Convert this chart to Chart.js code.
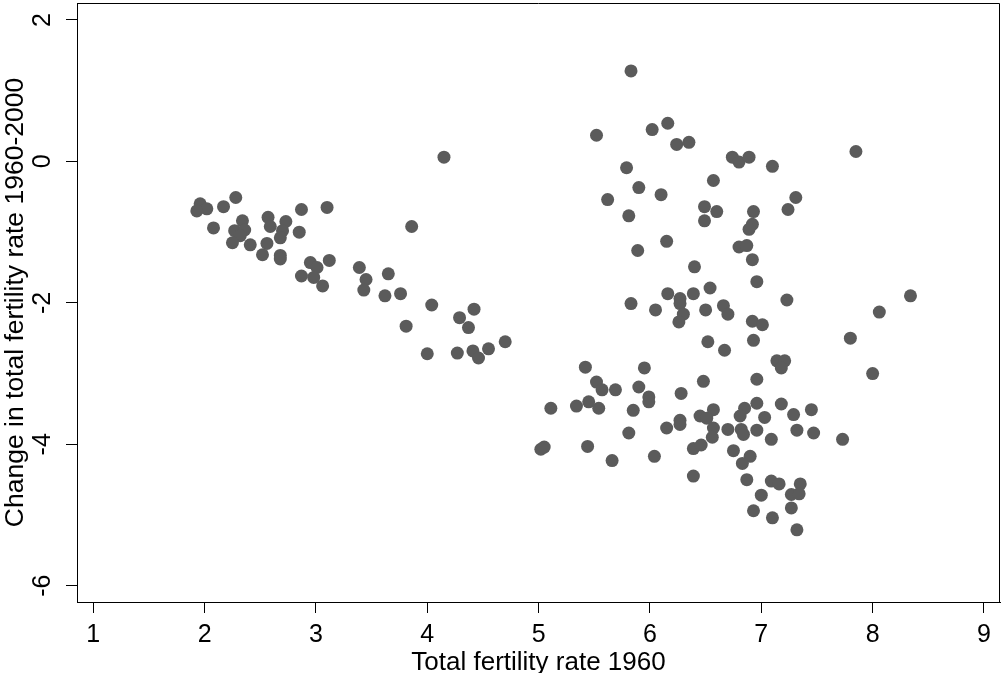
<!DOCTYPE html>
<html>
<head>
<meta charset="utf-8">
<script src="https://cdn.jsdelivr.net/npm/chart.js@4.4.1/dist/chart.umd.min.js"></script>
<style>
  html, body { margin: 0; padding: 0; background: #fff; }
</style>
</head>
<body>
<canvas id="chart" width="1002" height="673"></canvas>
<script>
// Total fertility rate in 1960 (x) and its change 1960-2000 (y)
const tfr1960 = [
    1.96, 2.02, 1.93, 2.17, 2.28, 2.08, 2.34, 2.27, 2.36, 2.32, 2.25, 2.41,
    2.57, 2.59, 2.73, 2.70, 2.68, 2.56, 2.52, 2.68, 2.68, 2.87, 2.85, 3.10,
    3.86, 2.95, 3.01, 3.12, 2.87, 2.98, 3.06, 3.39, 3.45, 3.43, 3.65, 3.62,
    3.76, 4.04, 3.81, 4.42, 4.29, 4.37, 4.70, 4.00, 4.27, 4.41, 4.55, 4.46,
    4.15,
    5.83, 5.52, 6.02, 6.16, 6.24, 6.35, 5.79, 5.90, 6.10, 5.62, 5.81, 6.57,
    6.49, 6.60, 6.49, 6.15, 5.89, 6.40, 5.83, 6.16, 6.27, 6.27, 6.30, 6.26,
    6.39, 6.54, 6.05, 6.50, 6.74, 6.80, 6.89, 7.10, 7.85, 7.31, 7.24, 6.93,
    6.92, 6.89, 6.80, 6.87, 6.92, 6.96, 7.23, 8.06, 6.66, 6.70, 6.92, 7.01,
    7.80, 6.52, 6.93, 6.67, 8.34, 5.42, 5.95, 5.52, 5.57, 5.69, 5.90, 5.99,
    5.99, 6.28, 5.11, 5.34, 5.45, 5.54, 5.85, 5.81, 6.15, 6.27, 6.27, 5.02,
    5.05, 5.44, 5.66, 6.04, 6.39, 6.39, 6.46, 7.14, 7.21, 7.18, 6.48, 6.96,
    6.96, 7.18, 7.29, 7.45, 7.03, 6.85, 6.81, 6.57, 6.45, 6.51, 6.57, 6.56,
    6.70, 6.82, 6.84, 6.96, 7.09, 7.32, 7.47, 7.73, 6.75, 6.90, 6.83, 6.87,
    7.09, 7.16, 7.35, 7.27, 7.34, 7.00, 7.27, 6.93, 7.10, 7.32, 8.00
];
const tfrChange = [
    -0.60, -0.67, -0.70, -0.64, -0.51, -0.94, -0.84, -0.98, -0.97, -1.05, -1.15, -1.18,
    -0.79, -0.92, -0.85, -0.98, -1.08, -1.16, -1.32, -1.33, -1.38, -0.68, -1.00, -0.65,
    -0.92, -1.43, -1.50, -1.40, -1.62, -1.64, -1.76, -1.50, -1.67, -1.82, -1.59, -1.90,
    -1.87, -2.03, -2.33, -2.09, -2.21, -2.35, -2.55, -2.72, -2.71, -2.68, -2.65, -2.78,
    0.06,
    1.28, 0.37, 0.45, 0.54, 0.24, 0.27, -0.09, -0.37, -0.47, -0.54, -0.77, -0.27,
    -0.64, -0.71, -0.84, -1.13, -1.26, -1.49, -2.01, -1.87, -1.94, -2.01, -2.16, -2.27,
    -1.87, -1.79, -2.10, -2.10, 0.06, -0.01, 0.06, -0.07, 0.14, -0.51, -0.68, -0.71,
    -0.89, -0.96, -1.21, -1.19, -1.39, -1.70, -1.96, -2.13, -2.04, -2.16, -2.26, -2.31,
    -2.50, -2.55, -2.53, -2.67, -1.90, -2.91, -2.92, -3.12, -3.23, -3.23, -3.19, -3.33,
    -3.40, -3.28, -3.49, -3.46, -3.40, -3.49, -3.52, -3.84, -3.77, -3.66, -3.72, -4.07,
    -4.04, -4.03, -4.23, -4.17, -4.45, -4.06, -4.01, -2.82, -2.82, -2.92, -3.11, -3.08,
    -3.42, -3.43, -3.58, -3.51, -3.62, -3.49, -3.60, -3.51, -3.60, -3.63, -3.77, -3.90,
    -3.79, -3.79, -3.86, -3.80, -3.93, -3.80, -3.84, -3.93, -4.09, -4.17, -4.27, -4.50,
    -4.52, -4.56, -4.56, -4.71, -4.70, -4.72, -4.90, -4.94, -5.04, -5.21, -3.00
];
const xTicks = [1, 2, 3, 4, 5, 6, 7, 8, 9];
const yTicks = [-6, -4, -2, 0, 2];

Chart.defaults.font.family = '"Liberation Sans", Arial, sans-serif';
Chart.defaults.color = '#000';

// top and right edges of the plot box (left/bottom come from the axes)
const frame = {
    id: 'frame',
    afterDatasetsDraw(chart) {
        const a = chart.chartArea, ctx = chart.ctx;
        ctx.save();
        ctx.strokeStyle = '#000';
        ctx.lineWidth = 1;
        ctx.beginPath();
        ctx.moveTo(Math.round(a.left) + 0.5, Math.round(a.top) + 0.5);
        ctx.lineTo(Math.round(a.right) - 0.5, Math.round(a.top) + 0.5);
        ctx.lineTo(Math.round(a.right) - 0.5, Math.round(a.bottom) + 0.5);
        ctx.stroke();
        ctx.restore();
    }
};

// no extra room for half-labels at the axis ends
function noPad(s) {
    s.paddingTop = 0; s.paddingBottom = 0; s.paddingLeft = 0; s.paddingRight = 0;
}

const points = tfr1960.map((x, i) => ({ x: x, y: tfrChange[i] }));

new Chart(document.getElementById('chart'), {
    type: 'scatter',
    data: {
        datasets: [{
            data: points,
            backgroundColor: '#5b5b5b',
            borderColor: '#5b5b5b',
            borderWidth: 0,
            pointRadius: 6.5,
            pointHoverRadius: 6.5
        }]
    },
    options: {
        responsive: false,
        animation: false,
        devicePixelRatio: 1,
        layout: { autoPadding: false, padding: { top: 3, right: 2, left: 0, bottom: 0 } },
        plugins: { legend: { display: false }, tooltip: { enabled: false } },
        scales: {
            x: {
                type: 'linear',
                min: 0.854,
                max: 9.144,
                afterBuildTicks: s => { s.ticks = xTicks.map(v => ({ value: v })); },
                afterFit: s => { s.height = 71; noPad(s); },
                ticks: { font: { size: 25 }, padding: 7, maxRotation: 0, autoSkip: false },
                grid: { drawOnChartArea: false, drawTicks: true, tickLength: 11, color: '#000', lineWidth: 1 },
                border: { display: true, color: '#000', width: 1 },
                title: {
                    display: true,
                    text: 'Total fertility rate 1960',
                    font: { size: 26, lineHeight: 1 },
                    padding: { top: 0, bottom: -3 }
                }
            },
            y: {
                type: 'linear',
                min: -6.23,
                max: 2.24,
                afterBuildTicks: s => { s.ticks = yTicks.map(v => ({ value: v })); },
                afterFit: s => { s.width = 77; noPad(s); },
                ticks: { font: { size: 25 }, padding: 12, minRotation: 90, maxRotation: 90, crossAlign: 'center', autoSkip: false },
                grid: { drawOnChartArea: false, drawTicks: true, tickLength: 11, color: '#000', lineWidth: 1 },
                border: { display: true, color: '#000', width: 1 },
                title: {
                    display: true,
                    text: 'Change in total fertility rate 1960-2000',
                    font: { size: 26.5, lineHeight: 1 },
                    padding: { top: 2, bottom: 0 }
                }
            }
        }
    },
    plugins: [frame]
});
</script>
</body>
</html>
